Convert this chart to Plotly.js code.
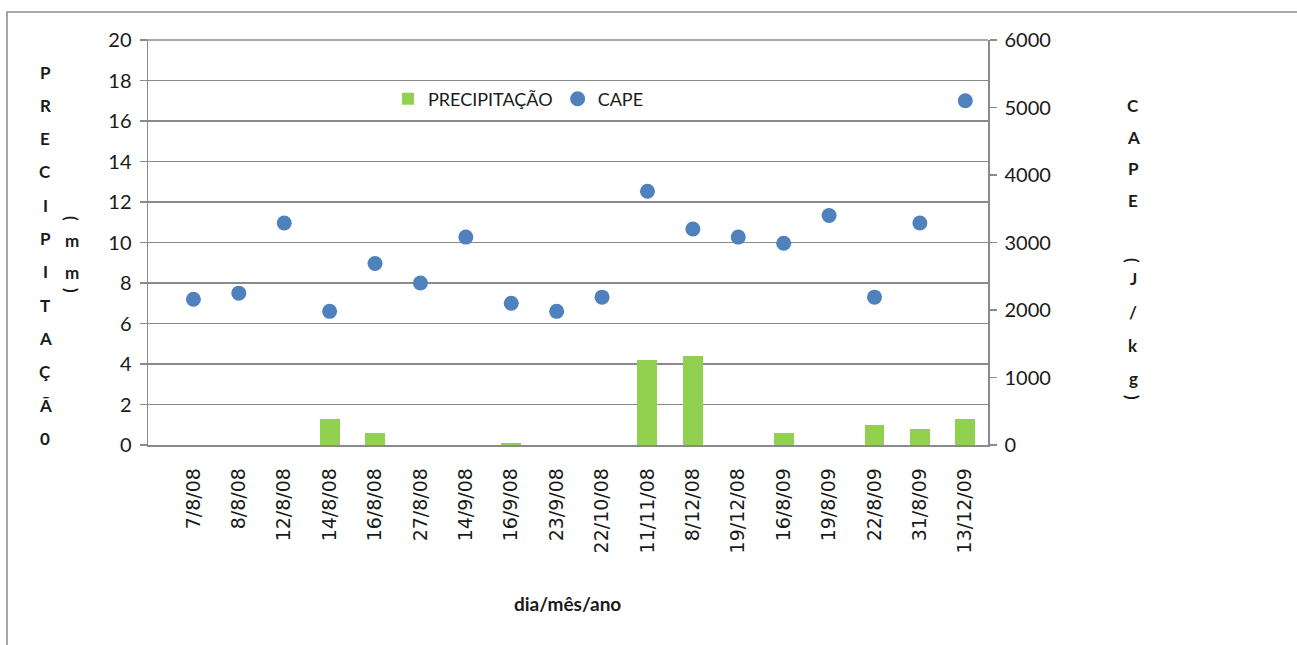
<!DOCTYPE html>
<html>
<head>
<meta charset="utf-8">
<script src="https://cdn.plot.ly/plotly-3.0.1.min.js"></script>
<style>
  html, body { margin: 0; padding: 0; background: #ffffff; }
  #chart { width: 1297px; height: 645px; }
</style>
</head>
<body>
<div id="chart"></div>
<script>
// Observation dates (dia/mês/ano)
const dates = ['7/8/08', '8/8/08', '12/8/08', '14/8/08', '16/8/08', '27/8/08', '14/9/08', '16/9/08',
  '23/9/08', '22/10/08', '11/11/08', '8/12/08', '19/12/08', '16/8/09', '19/8/09', '22/8/09',
  '31/8/09', '13/12/09'];

// Precipitation (mm) per date
const precipitacao = [0, 0, 0, 1.3, 0.6, 0, 0, 0.1, 0, 0, 4.2, 4.4, 0, 0.6, 0, 1.0, 0.8, 1.3];

// CAPE (J/kg) per date
const cape = [2160, 2250, 3290, 1980, 2690, 2400, 3080, 2100, 1980, 2190, 3760, 3200, 3080, 2990,
  3400, 2190, 3290, 5100];

// Left / right axis ticks and the category positions that carry tick marks
const precipTicks = [0, 2, 4, 6, 8, 10, 12, 14, 16, 18, 20];
const capeTicks = [0, 1000, 2000, 3000, 4000, 5000, 6000];
const markedPositions = [-1, 4, 9, 14];

const W = 1297, H = 645;
const M = { l: 148, r: 309, t: 40, b: 200 };
const PW = W - M.l - M.r, PH = H - M.t - M.b;
const px2x = p => (p - M.l) / PW;
const px2y = p => (H - M.b - p) / PH;

const idx = dates.map((_, i) => i);
const GRID = '#8a8a8a';
const TXT = '#1a1a1a';

const traces = [
  {
    type: 'bar', name: 'PRECIPITAÇÃO', x: idx, y: precipitacao, yaxis: 'y', xaxis: 'x',
    width: 0.44, marker: { color: '#92D050', line: { width: 0 } }
  },
  {
    type: 'scatter', mode: 'markers', name: 'CAPE', x: idx, y: cape, yaxis: 'y2', xaxis: 'x',
    marker: { color: '#4F81BD', size: 15 }
  }
];

const annotations = [];
function stack(chars, xPx, yPxList, font) {
  chars.forEach((c, i) => {
    const rot = (c === '(' || c === ')');
    annotations.push({
      text: c, xref: 'paper', yref: 'paper', x: px2x(xPx), y: px2y(yPxList[i]),
      xanchor: 'center', yanchor: 'middle', showarrow: false, textangle: rot ? 90 : 0,
      font: font
    });
  });
}
const titleFont = { family: 'Lato, sans-serif', size: 17, color: TXT, weight: 'bold' };

// Left title, stacked letter by letter
const leftTitle = 'PRECIPITAÇÃ0'.split('');
stack(leftTitle, 45, leftTitle.map((_, i) => 72 + i * 33.3), titleFont);
stack(['(', 'm', 'm', ')'], 72, [218, 240, 272, 290], titleFont);

// Right title, stacked letter by letter
stack(['C', 'A', 'P', 'E'], 1133, [105, 137, 168, 200], titleFont);
stack(['(', 'J', '/', 'k', 'g', ')'], 1133, [260, 278, 312, 345, 378, 397], titleFont);

// Horizontal axis title
annotations.push({
  text: '<b>dia/mês/ano</b>', xref: 'paper', yref: 'paper', x: px2x(567), y: px2y(603),
  xanchor: 'center', yanchor: 'middle', showarrow: false,
  font: { family: 'Lato, sans-serif', size: 19, color: TXT }
});

const layout = {
  width: W, height: H, margin: M,
  paper_bgcolor: '#ffffff', plot_bgcolor: '#ffffff',
  showlegend: true,
  legend: {
    orientation: 'h', x: px2x(388), y: px2y(99), xanchor: 'left', yanchor: 'middle',
    bgcolor: 'rgba(0,0,0,0)', font: { family: 'Lato, sans-serif', size: 18, color: TXT },
    itemwidth: 30, traceorder: 'normal'
  },
  bargap: 0,
  xaxis: {
    range: [-1, 17.5], tickmode: 'array', tickvals: idx, ticktext: dates, tickangle: -90,
    ticks: '', ticklabelstandoff: 14, showgrid: false, zeroline: false,
    showline: true, linecolor: GRID, linewidth: 1.5,
    tickfont: { family: '"DejaVu Sans", sans-serif', size: 19, color: TXT }, fixedrange: true
  },
  xaxis2: {
    overlaying: 'x', anchor: 'y', side: 'bottom', range: [-1, 17.5], tickmode: 'array',
    tickvals: markedPositions, ticks: 'outside', ticklen: 8, tickcolor: GRID, tickwidth: 1.5,
    showticklabels: false, showgrid: false, zeroline: false, showline: false
  },
  yaxis: {
    range: [0, 20], tickmode: 'array', tickvals: precipTicks, ticks: 'outside', ticklen: 7,
    tickcolor: GRID, tickwidth: 1.5, showgrid: true, gridcolor: GRID, gridwidth: 1.5,
    zeroline: false, showline: true, linecolor: GRID, linewidth: 1.5, ticklabelstandoff: 4,
    tickfont: { family: 'Lato, sans-serif', size: 20, color: TXT }
  },
  yaxis2: {
    overlaying: 'y', side: 'right', anchor: 'x', range: [0, 6000], tickmode: 'array', tickvals: capeTicks,
    ticks: 'outside', ticklen: 7, tickcolor: GRID, tickwidth: 1.5, showgrid: false, zeroline: false,
    showline: true, linecolor: GRID, linewidth: 1.5, ticklabelstandoff: 4,
    tickfont: { family: 'Lato, sans-serif', size: 20, color: TXT }
  },
  shapes: [
    // outer frame around the whole chart
    {
      type: 'rect', xref: 'paper', yref: 'paper', x0: px2x(7), x1: px2x(1310), y0: px2y(660), y1: px2y(12),
      line: { color: '#8a8a8a', width: 1.5 }, fillcolor: 'rgba(0,0,0,0)', layer: 'below'
    },
    // top gridline at 20 mm
    {
      type: 'line', xref: 'paper', yref: 'paper', x0: px2x(140), x1: 1, y0: 1, y1: 1,
      line: { color: GRID, width: 1.5 }, layer: 'below'
    }
  ],
  annotations: annotations
};

Plotly.newPlot('chart', traces, layout, { displayModeBar: false, staticPlot: true });
</script>
</body>
</html>
